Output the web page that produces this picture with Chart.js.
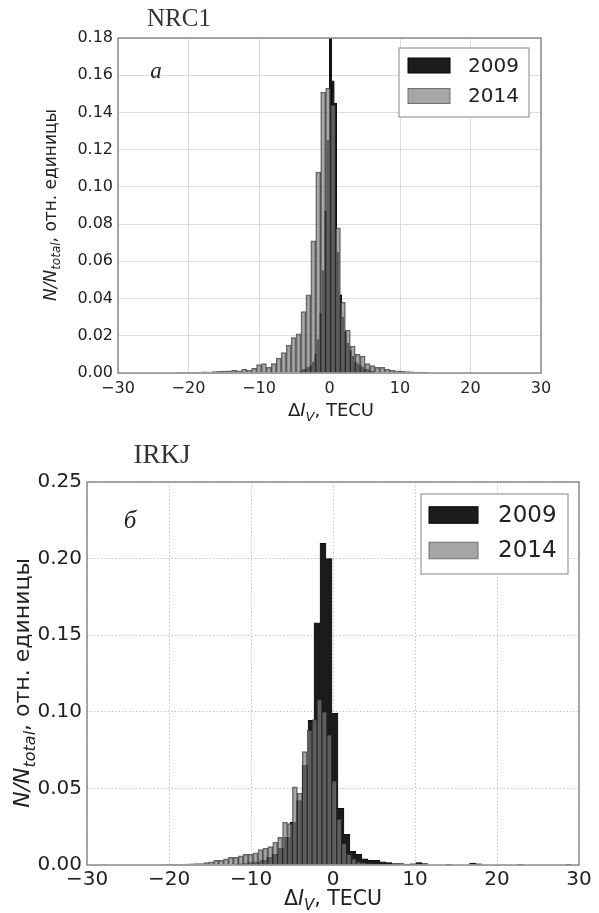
<!DOCTYPE html>
<html>
<head>
<meta charset="utf-8">
<script src="https://cdn.jsdelivr.net/npm/chart.js@4/dist/chart.umd.min.js"></script>
<style>
  html, body { margin: 0; padding: 0; background: #fff; }
  #wrap { position: relative; width: 599px; height: 913px; }
  canvas { position: absolute; left: 0; }
  #c1 { top: 0; }
  #c2 { top: 430px; }
</style>
</head>
<body>
<div id="wrap">
  <canvas id="c1" width="599" height="430"></canvas>
  <canvas id="c2" width="599" height="483"></canvas>
</div>
<script>
// ---- data ----
const xTicks = [-30, -20, -10, 0, 10, 20, 30];
const yTicksNrc = [0, 0.02, 0.04, 0.06, 0.08, 0.10, 0.12, 0.14, 0.16, 0.18];
const yTicksIrk = [0, 0.05, 0.10, 0.15, 0.20, 0.25];
const years = ['2009', '2014'];

// NRC1, 2009 : bins of 0.35 TECU starting at centre -4.05
const nrc2009Start = -4.05, nrc2009Width = 0.35;
const nrc2009 = [0.001, 0.002, 0.002, 0.003, 0.004, 0.006, 0.010, 0.018, 0.032, 0.055,
  0.087, 0.125, 0.185, 0.157, 0.145, 0.065, 0.042, 0.030, 0.022, 0.016,
  0.012, 0.009, 0.006, 0.005, 0.004, 0.003, 0.002, 0.002, 0.001, 0.001];

// NRC1, 2014 : bins of 0.7 TECU starting at centre -21.2
const nrc2014Start = -21.2, nrc2014Width = 0.7;
const nrc2014 = [0.0004, 0.0003, 0.0004, 0.0003, 0.0005, 0.0006, 0.0005, 0.0008, 0.0009, 0.001,
  0.0012, 0.0015, 0.0012, 0.002, 0.0015, 0.0025, 0.0045, 0.005, 0.003, 0.005,
  0.008, 0.011, 0.015, 0.019, 0.021, 0.033, 0.042, 0.071, 0.108, 0.151,
  0.153, 0.144, 0.078, 0.038, 0.023, 0.0145, 0.010, 0.009, 0.005, 0.004,
  0.003, 0.003, 0.002, 0.0015, 0.0012, 0.001, 0.0008, 0.0006, 0.0005, 0.0004, 0.0003];

// IRKJ, 2009 : bins of 0.73 TECU starting at centre -11.44
const irk2009Start = -11.44, irk2009Width = 0.73;
const irk2009 = [0.0008, 0.001, 0.0015, 0.002, 0.003, 0.005, 0.007, 0.011, 0.018, 0.028,
  0.042, 0.065, 0.0945, 0.158, 0.21, 0.20, 0.099, 0.037, 0.020, 0.009,
  0.007, 0.004, 0.003, 0.003, 0.002, 0.0015, 0.001, 0.001, 0.0006, 0.0008,
  0.0015, 0.001, 0, 0, 0, 0.0005, 0, 0, 0, 0.0012,
  0.0008, 0, 0, 0, 0, 0, 0, 0.0005, 0, 0,
  0, 0, 0, 0, 0, 0.0005];

// IRKJ, 2014 : bins of 0.6 TECU starting at centre -20.85
const irk2014Start = -20.85, irk2014Width = 0.6;
const irk2014 = [0.0003, 0.0005, 0.0004, 0.0005, 0.0005, 0.0006, 0.0008, 0.001, 0.001, 0.0015,
  0.002, 0.003, 0.003, 0.004, 0.005, 0.005, 0.006, 0.007, 0.007, 0.008,
  0.010, 0.011, 0.012, 0.015, 0.018, 0.028, 0.027, 0.051, 0.047, 0.074,
  0.088, 0.095, 0.108, 0.100, 0.085, 0.055, 0.030, 0.014, 0.007, 0.004,
  0.002, 0.0015, 0.001, 0.0008, 0.0005];

// ---- helpers ----
const toXY = (start, width, vals) => vals.map((v, i) => ({ x: start + i * width, y: v }));
const minus = v => (v < 0 ? '\u2212' + Math.abs(v) : String(v));

function richText(ctx, runs, x, y, angle) {
  ctx.save();
  ctx.translate(x, y);
  ctx.rotate(angle);
  ctx.textBaseline = 'alphabetic';
  ctx.textAlign = 'left';
  let total = 0;
  runs.forEach(r => { ctx.font = r.font; r.w = ctx.measureText(r.text).width; total += r.w; });
  let cx = -total / 2;
  runs.forEach(r => { ctx.font = r.font; ctx.fillText(r.text, cx, r.dy || 0); cx += r.w; });
  ctx.restore();
}

const decor = (p) => ({
  id: 'decor',
  afterDatasetsDraw(chart) {
    const { ctx, chartArea: a } = chart;
    ctx.save();
    // frame round the plot
    ctx.strokeStyle = '#8c8c8c';
    ctx.lineWidth = 1.5;
    ctx.strokeRect(a.left, a.top, a.right - a.left, a.bottom - a.top);

    // legend box
    const L = p.legend;
    ctx.fillStyle = '#fff';
    ctx.fillRect(L.x, L.y, L.w, L.h);
    ctx.strokeStyle = '#9a9a9a';
    ctx.lineWidth = 1.2;
    ctx.strokeRect(L.x, L.y, L.w, L.h);
    const sw = [['#1c1c1c', '#000'], ['#a6a6a6', '#707070']];
    years.forEach((yr, i) => {
      const cy = L.rows[i];
      ctx.fillStyle = sw[i][0];
      ctx.fillRect(L.sx, cy - L.sh / 2, L.sw, L.sh);
      ctx.strokeStyle = sw[i][1];
      ctx.lineWidth = 1;
      ctx.strokeRect(L.sx, cy - L.sh / 2, L.sw, L.sh);
      ctx.fillStyle = '#222';
      ctx.font = L.font;
      ctx.textBaseline = 'middle';
      ctx.textAlign = 'left';
      ctx.fillText(yr, L.tx, cy + 1);
    });

    // station name and panel letter
    ctx.fillStyle = '#333';
    ctx.font = p.title.font;
    ctx.textAlign = 'center';
    ctx.textBaseline = 'alphabetic';
    ctx.fillText(p.title.text, p.title.x, p.title.y);
    ctx.fillStyle = '#222';
    ctx.font = p.letter.font;
    ctx.fillText(p.letter.text, p.letter.x, p.letter.y);

    // axis titles
    ctx.fillStyle = '#222';
    const fy = p.yTitle.font, fx = p.xTitle.font;
    richText(ctx, [
      { text: 'N/N', font: 'italic ' + fy + 'px "DejaVu Sans"' },
      { text: 'total', font: 'italic ' + Math.round(fy * 0.72) + 'px "DejaVu Sans"', dy: fy * 0.25 },
      { text: ', отн. единицы', font: fy + 'px "DejaVu Sans"' }
    ], p.yTitle.x, p.yTitle.y, -Math.PI / 2);
    richText(ctx, [
      { text: 'Δ', font: fx + 'px "DejaVu Sans"' },
      { text: 'I', font: 'italic ' + fx + 'px "DejaVu Sans"' },
      { text: 'V', font: 'italic ' + Math.round(fx * 0.72) + 'px "DejaVu Sans"', dy: fx * 0.25 },
      { text: ', TECU', font: fx + 'px "DejaVu Sans"' }
    ], p.xTitle.x, p.xTitle.y, 0);
    ctx.restore();
  }
});

function makeChart(id, s) {
  return new Chart(document.getElementById(id), {
    type: 'bar',
    data: {
      datasets: [
        {
          label: years[0],
          data: toXY(s.start09, s.w09, s.v09),
          backgroundColor: '#1b1b1b',
          borderColor: '#000',
          borderWidth: 0.5,
          barThickness: s.w09 * s.ppu,
          grouped: false,
          clip: 0,
          order: 1
        },
        {
          label: years[1],
          data: toXY(s.start14, s.w14, s.v14),
          backgroundColor: 'rgba(126,126,126,0.67)',
          borderColor: 'rgba(45,45,45,0.75)',
          borderWidth: 1,
          barThickness: s.w14 * s.ppu,
          grouped: false,
          clip: 0,
          order: 0
        }
      ]
    },
    options: {
      responsive: false,
      animation: false,
      layout: { padding: s.pad },
      plugins: { legend: { display: false }, tooltip: { enabled: false } },
      scales: {
        x: {
          type: 'linear',
          min: -30, max: 30,
          offset: false,
          afterBuildTicks: sc => { sc.ticks = xTicks.map(v => ({ value: v })); },
          afterFit: sc => { sc.height = s.xh; },
          ticks: { callback: minus, color: '#222', font: { family: 'DejaVu Sans', size: s.tick }, padding: s.tpad, maxRotation: 0 },
          grid: { color: s.gridColor, lineWidth: 1, drawTicks: false, offset: false },
          border: { display: false, dash: s.dash }
        },
        y: {
          min: 0, max: s.ymax,
          afterBuildTicks: sc => { sc.ticks = s.yt.map(v => ({ value: v })); },
          afterFit: sc => { sc.width = s.yw; },
          ticks: { callback: v => v.toFixed(2), color: '#222', font: { family: 'DejaVu Sans', size: s.tick }, padding: 5 },
          grid: { color: s.gridColor, lineWidth: 1, drawTicks: false },
          border: { display: false, dash: s.dash }
        }
      }
    },
    plugins: [decor(s.deco)]
  });
}

makeChart('c1', {
  start09: nrc2009Start, w09: nrc2009Width, v09: nrc2009,
  start14: nrc2014Start, w14: nrc2014Width, v14: nrc2014,
  ppu: 423 / 60, ymax: 0.18, yt: yTicksNrc,
  pad: { left: 0, top: 38, right: 58, bottom: 0 },
  xh: 57, yw: 118, tick: 16, tpad: 6,
  gridColor: '#dcdcdc', dash: [],
  deco: {
    legend: { x: 399, y: 48, w: 130, h: 69, sx: 408, sw: 42, sh: 15, rows: [65.5, 96], tx: 468, font: '20px "DejaVu Sans"' },
    title: { text: 'NRC1', x: 179, y: 26, font: '25px "Liberation Serif"' },
    letter: { text: 'а', x: 156, y: 78, font: 'italic 23px "Liberation Serif"' },
    yTitle: { x: 56, y: 205, font: 17 },
    xTitle: { x: 331, y: 416, font: 18 }
  }
});

makeChart('c2', {
  start09: irk2009Start, w09: irk2009Width, v09: irk2009,
  start14: irk2014Start, w14: irk2014Width, v14: irk2014,
  ppu: 491.7 / 60, ymax: 0.25, yt: yTicksIrk,
  pad: { left: 0, top: 52, right: 20, bottom: 0 },
  xh: 48, yw: 87, tick: 20, tpad: 3,
  gridColor: '#c4c4c4', dash: [1.5, 2],
  deco: {
    legend: { x: 421, y: 64, w: 147, h: 80, sx: 429, sw: 49, sh: 16.5, rows: [85, 120.5], tx: 498, font: '23px "DejaVu Sans"' },
    title: { text: 'IRKJ', x: 162, y: 33, font: '27px "Liberation Serif"' },
    letter: { text: 'б', x: 130, y: 98, font: 'italic 25px "Liberation Serif"' },
    yTitle: { x: 29, y: 253, font: 22 },
    xTitle: { x: 333, y: 475, font: 20.5 }
  }
});
</script>
</body>
</html>
